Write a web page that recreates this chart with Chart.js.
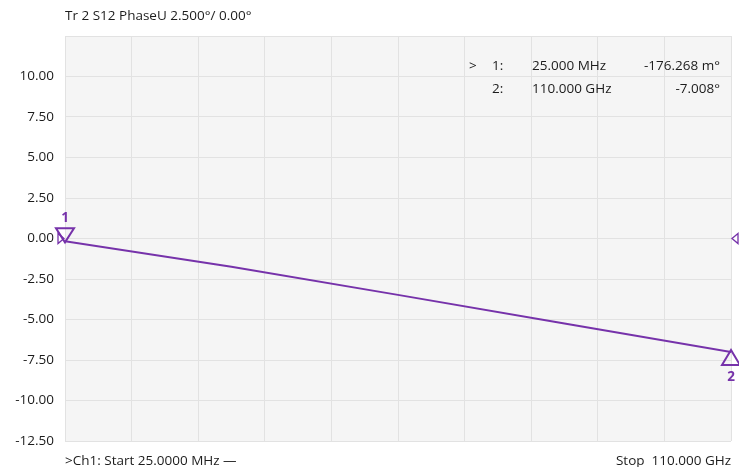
<!DOCTYPE html>
<html>
<head>
<meta charset="utf-8">
<script src="https://cdn.jsdelivr.net/npm/chart.js@4.4.1/dist/chart.umd.min.js"></script>
<style>
  html, body { margin: 0; padding: 0; background: #fff; }
  #wrap { width: 739px; height: 467px; }
</style>
</head>
<body>
<div id="wrap"><canvas id="grafico"></canvas></div>
<script>
// frequências (GHz) e fase (graus)
const frequencias = [0.025, 27.5, 55, 82.5, 110];
const fase = [-0.176, -1.75, -3.48, -5.25, -7.008];

// marcadores
const marcadorFreq = [0.025, 110];
const marcadorFase = [-0.176268, -7.008];
const marcadorTexto = [
    ["1:", "25.000 MHz", "-176.268 m°"],
    ["2:", "110.000 GHz", "-7.008°"]
];

const roxo = "#7632aa";
const fonte = "'Open Sans', 'Noto Sans', sans-serif";
const corTexto = "#1c1c1c";

// fundo da área do gráfico
const fundo = {
    id: 'fundo',
    beforeDraw(chart) {
        const { ctx, chartArea: a } = chart;
        ctx.save();
        ctx.fillStyle = "#f5f5f5";
        ctx.fillRect(a.left, a.top, a.right - a.left, a.bottom - a.top);
        ctx.restore();
    }
};

// textos e marcadores
const extras = {
    id: 'extras',
    afterDraw(chart) {
        const { ctx, chartArea: a, scales } = chart;
        const x = scales.x, y = scales.y;
        ctx.save();
        ctx.fillStyle = corTexto;
        ctx.font = "13.5px " + fonte;
        ctx.textBaseline = "middle";
        ctx.textAlign = "left";
        ctx.fillText("Tr 2 S12 PhaseU 2.500°/ 0.00°", a.left, 16);
        ctx.fillText(">Ch1: Start 25.0000 MHz —", a.left, 461);
        ctx.textAlign = "right";
        ctx.fillText("Stop  110.000 GHz", a.right, 461);

        // tabela de marcadores
        marcadorTexto.forEach((linha, i) => {
            const ty = 66 + i * 23;
            ctx.textAlign = "left";
            if (i === 0) ctx.fillText(">", 469, ty);
            ctx.fillText(linha[0], 492, ty);
            ctx.fillText(linha[1], 532, ty);
            ctx.textAlign = "right";
            ctx.fillText(linha[2], 720, ty);
        });

        // triângulos dos marcadores
        ctx.strokeStyle = roxo;
        ctx.fillStyle = roxo;
        ctx.lineWidth = 2;
        ctx.lineJoin = "miter";
        ctx.font = "bold 13.5px " + fonte;
        ctx.textAlign = "center";
        marcadorFreq.forEach((f, i) => {
            const px = x.getPixelForValue(f);
            const py = y.getPixelForValue(marcadorFase[i]);
            ctx.beginPath();
            if (i === 0) {
                ctx.moveTo(px, py + 1);
                ctx.lineTo(px - 9, py - 13);
                ctx.lineTo(px + 9, py - 13);
                ctx.closePath();
                ctx.stroke();
                ctx.fillText("1", px, py - 23);
            } else {
                ctx.moveTo(px, py - 2);
                ctx.lineTo(px - 9, py + 13);
                ctx.lineTo(px + 9, py + 13);
                ctx.closePath();
                ctx.stroke();
                ctx.fillText("2", px, py + 25);
            }
        });

        // indicadores de referência
        const ry = y.getPixelForValue(0);
        ctx.lineWidth = 1.3;
        ctx.beginPath();
        ctx.moveTo(a.left - 7, ry - 5);
        ctx.lineTo(a.left - 1, ry);
        ctx.lineTo(a.left - 7, ry + 5);
        ctx.closePath();
        ctx.stroke();
        ctx.beginPath();
        ctx.moveTo(a.right + 7, ry - 5);
        ctx.lineTo(a.right + 1, ry);
        ctx.lineTo(a.right + 7, ry + 5);
        ctx.closePath();
        ctx.stroke();
        ctx.restore();
    }
};

const ctx1 = document.querySelector("#grafico");

new Chart(ctx1, {
    type: 'line',
    data: {
        datasets: [{
            data: frequencias.map((f, i) => ({ x: f, y: fase[i] })),
            borderColor: roxo,
            borderWidth: 2,
            pointRadius: 0,
            tension: 0
        }]
    },
    options: {
        responsive: true,
        maintainAspectRatio: false,
        animation: false,
        layout: { padding: { top: 36, right: 8, bottom: 26, left: 0 } },
        plugins: {
            legend: { display: false },
            tooltip: { enabled: false }
        },
        scales: {
            x: {
                type: 'linear',
                min: 0.025,
                max: 110,
                afterBuildTicks(scale) {
                    const t = [];
                    for (let i = 0; i <= 10; i++) t.push({ value: 0.025 + i * (110 - 0.025) / 10 });
                    scale.ticks = t;
                },
                ticks: { display: false },
                grid: { color: "#e2e2e2", lineWidth: 1, drawTicks: false },
                border: { display: false }
            },
            y: {
                min: -12.5,
                max: 12.5,
                afterFit(scale) { scale.width = 65; },
                ticks: {
                    stepSize: 2.5,
                    padding: 11,
                    color: corTexto,
                    font: { family: fonte, size: 13.5 },
                    callback: v => v === 12.5 ? '' : v.toFixed(2)
                },
                grid: { color: "#e2e2e2", lineWidth: 1, drawTicks: false },
                border: { display: false }
            }
        }
    },
    plugins: [fundo, extras]
});
</script>
</body>
</html>
